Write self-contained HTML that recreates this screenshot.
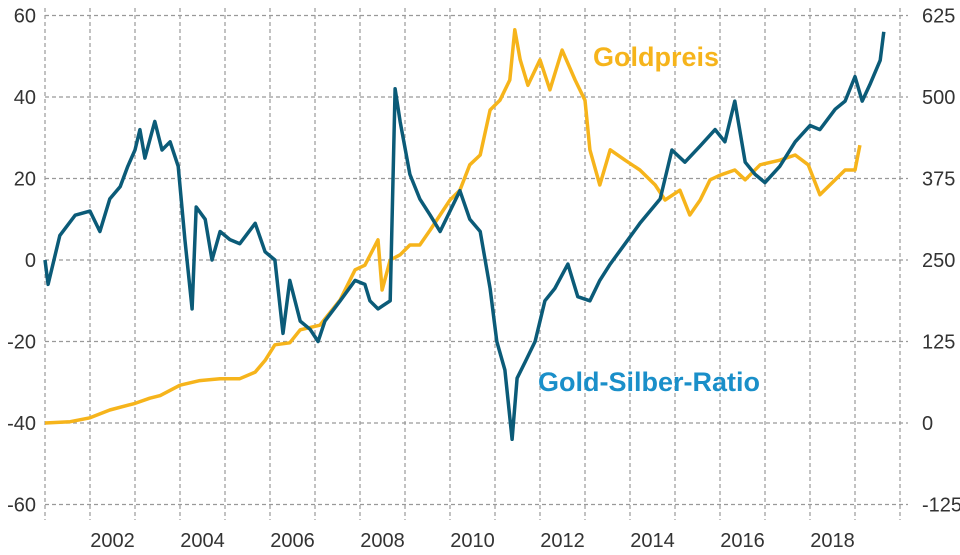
<!DOCTYPE html>
<html><head><meta charset="utf-8"><style>
body{margin:0;background:#fff;}
svg{display:block;font-family:"Liberation Sans",sans-serif;}
</style></head><body>
<svg id="chart" width="960" height="555">
<g id="grid"></g>
<g id="axes"></g>
<g id="series"></g>
<text x="593" y="66" font-size="27" font-weight="bold" fill="#f6b41b">Goldpreis</text>
<text x="538" y="391" font-size="27" font-weight="bold" fill="#1a8fc9">Gold-Silber-Ratio</text>
</svg>
<script>
const leftTicks=[60,40,20,0,-20,-40,-60];
const rightTicks=[625,500,375,250,125,0,-125];
const yearTicks=[2002,2004,2006,2008,2010,2012,2014,2016,2018];
const ratioYears=[2001.00,2001.07,2001.33,2001.67,2002.00,2002.22,2002.44,2002.67,2002.84,2003.00,2003.11,2003.22,2003.44,2003.60,2003.78,2003.96,2004.11,2004.27,2004.36,2004.56,2004.71,2004.89,2005.11,2005.33,2005.67,2005.89,2006.11,2006.29,2006.44,2006.67,2006.89,2007.07,2007.22,2007.56,2007.89,2008.11,2008.22,2008.40,2008.67,2008.78,2008.89,2009.11,2009.33,2009.56,2009.78,2010.00,2010.22,2010.44,2010.67,2010.89,2011.04,2011.22,2011.38,2011.49,2011.67,2011.89,2012.11,2012.33,2012.62,2012.84,2013.11,2013.33,2013.56,2013.89,2014.22,2014.67,2014.93,2015.22,2015.56,2015.89,2016.11,2016.33,2016.56,2016.78,2017.00,2017.33,2017.67,2018.00,2018.22,2018.56,2018.78,2019.00,2019.16,2019.33,2019.56,2019.64];
const ratioValues=[0,-6,6,11,12,7,15,18,23,27,32,25,34,27,29,23,5,-12,13,10,0,7,5,4,9,2,0,-18,-5,-15,-17,-20,-15,-10,-5,-6,-10,-12,-10,42,34,21,15,11,7,12,17,10,7,-7,-20,-27,-44,-29,-25,-20,-10,-7,-1,-9,-10,-5,-1,4,9,15,27,24,28,32,29,39,24,21,19,23,29,33,32,37,39,45,39,43,49,56];
const goldYears=[2001.00,2001.56,2002.00,2002.44,2003.00,2003.33,2003.56,2004.00,2004.44,2004.89,2005.33,2005.67,2005.89,2006.11,2006.44,2006.67,2007.11,2007.56,2007.89,2008.11,2008.40,2008.49,2008.67,2008.89,2009.11,2009.33,2009.56,2009.78,2010.00,2010.22,2010.44,2010.67,2010.89,2011.11,2011.33,2011.44,2011.56,2011.73,2012.00,2012.22,2012.49,2012.78,2013.00,2013.11,2013.33,2013.56,2013.89,2014.22,2014.56,2014.78,2015.11,2015.33,2015.56,2015.78,2016.00,2016.33,2016.56,2016.89,2017.33,2017.67,2017.96,2018.22,2018.56,2018.78,2019.00,2019.11];
const goldValues=[0,2,8,20,30,38,42,58,65,68,68,78,96,120,123,143,150,189,235,242,281,204,250,258,273,273,296,319,342,357,396,411,480,495,526,603,557,518,557,511,572,526,495,419,365,419,403,388,365,342,357,319,342,373,380,388,373,396,403,411,396,350,373,388,388,426];

const NS="http://www.w3.org/2000/svg";
const X0=45,PX_PER_YEAR=45;
const xS=y=>X0+(y-2001)*PX_PER_YEAR;
const yL=v=>260-v*4.075;
const yR=r=>yL((r-250)*0.16);
function mk(tag,attrs,parent){const e=document.createElementNS(NS,tag);for(const k in attrs)e.setAttribute(k,attrs[k]);parent.appendChild(e);return e;}
const grid=document.getElementById('grid'),axes=document.getElementById('axes'),series=document.getElementById('series');
leftTicks.forEach((t,i)=>{
  const l=mk('line',{x1:45,x2:908,y1:yL(t),y2:yL(t),stroke:'#999','stroke-width':1.2,'stroke-dasharray':'4,3'},grid);
  
  
  const tx=mk('text',{x:36,y:yL(t)+7,'text-anchor':'end','font-size':20,fill:'#333'},axes);tx.textContent=t;
  
  
  const tr=mk('text',{x:922,y:yL(t)+7,'font-size':20,fill:'#333'},axes);tr.textContent=rightTicks[i];
  
  
});
for(let y=2001;y<=2020;y++){
  const l=mk('line',{x1:xS(y),x2:xS(y),y1:8,y2:520,stroke:'#999','stroke-width':1.2,'stroke-dasharray':'4,3'},grid);
  
  
}
yearTicks.forEach(y=>{
  const tx=mk('text',{x:xS(y+0.5),y:547,'text-anchor':'middle','font-size':20,fill:'#333'},axes);tx.textContent=y;
  
  
});
const gd=goldYears.map((y,i)=>(i?'L':'M')+xS(y).toFixed(1)+','+yR(goldValues[i]).toFixed(1)).join('');
const gp=mk('path',{d:gd,fill:'none',stroke:'#f6b41b','stroke-width':3.5,'stroke-linejoin':'round'},series);


const rd=ratioYears.map((y,i)=>(i?'L':'M')+xS(y).toFixed(1)+','+yL(ratioValues[i]).toFixed(1)).join('');
const rp=mk('path',{d:rd,fill:'none',stroke:'#0b5b78','stroke-width':3.5,'stroke-linejoin':'round'},series);


</script>
</body></html>
